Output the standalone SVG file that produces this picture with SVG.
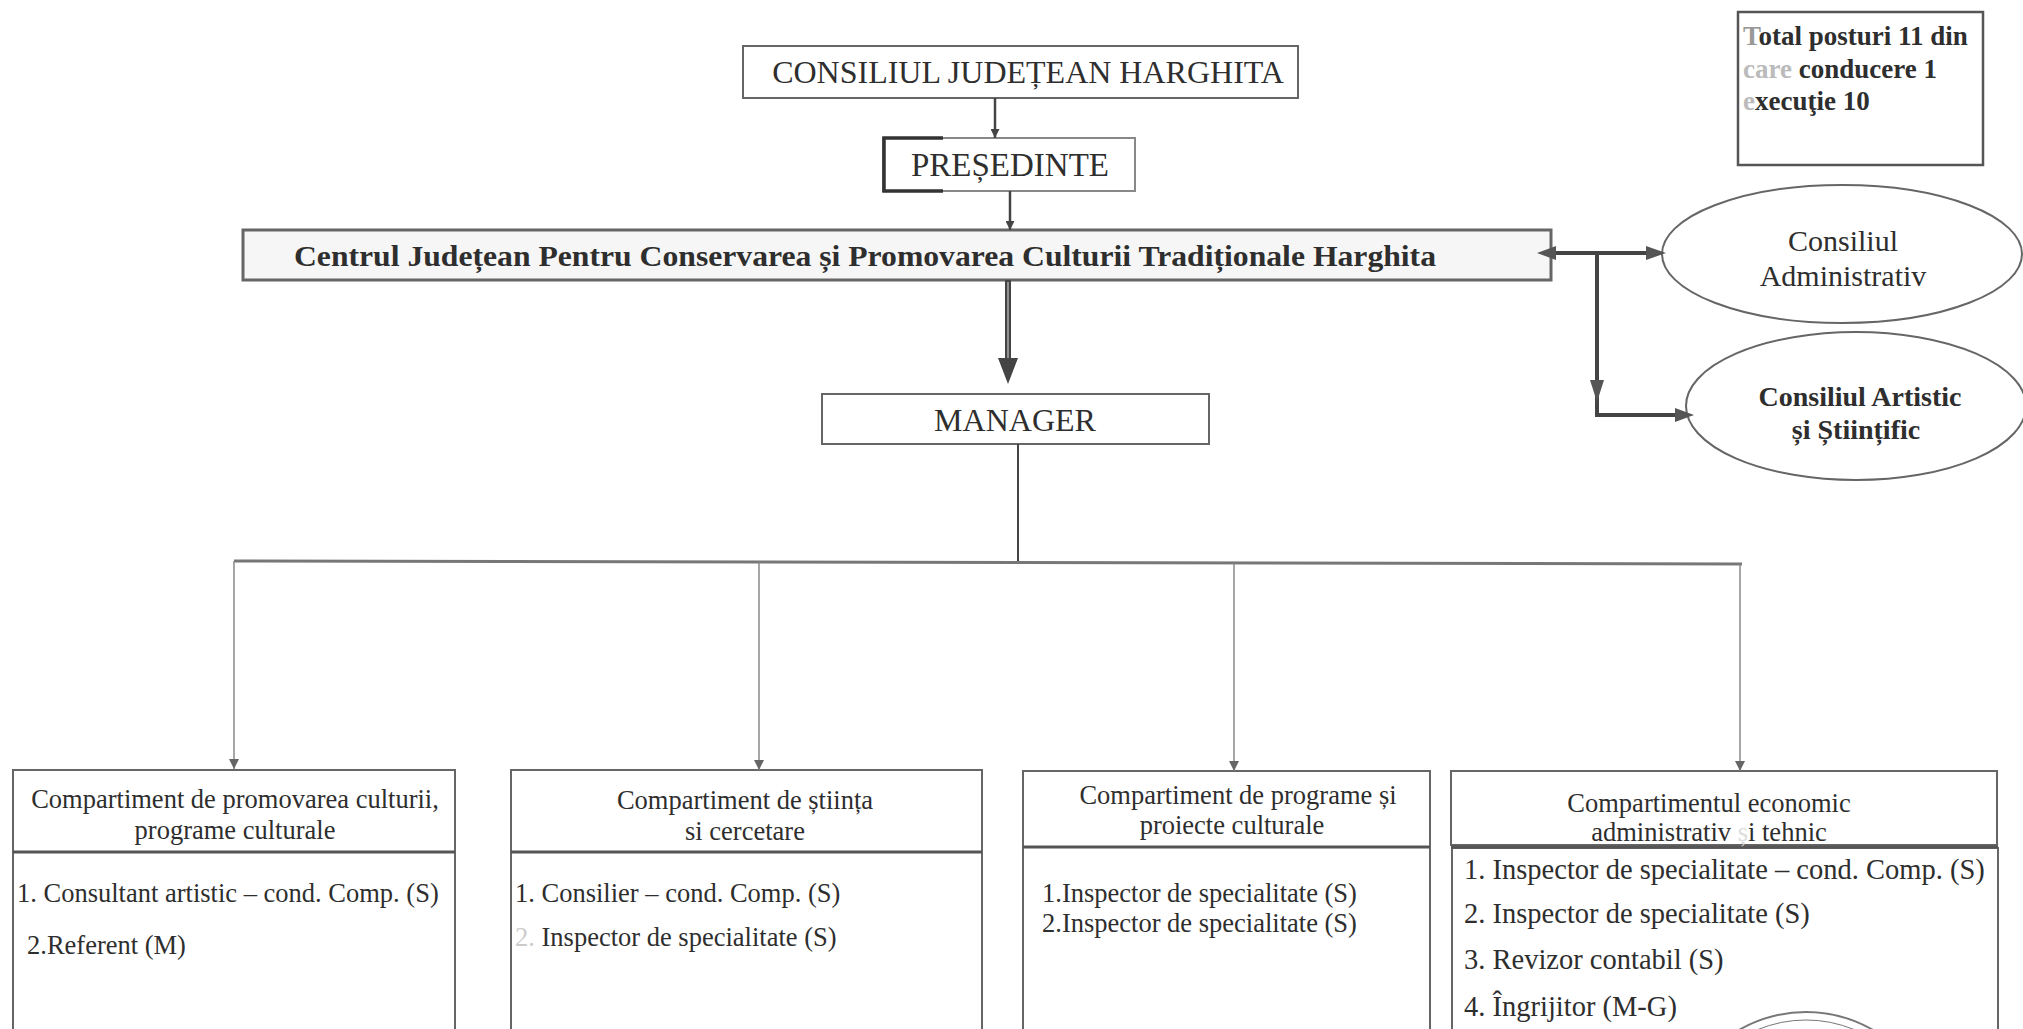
<svg xmlns="http://www.w3.org/2000/svg" width="2023" height="1029" viewBox="0 0 2023 1029">
<style>
.t{font-family:"Liberation Serif","Times New Roman",serif;fill:#2e2e2e}
.b{font-weight:bold}
.box{fill:#fff;stroke:#666;stroke-width:2}
.hdr{fill:none;stroke:#555;stroke-width:3}
.drop{stroke:#888;stroke-width:1.5;fill:none}
.thick{stroke:#444;stroke-width:4;fill:none}
.ah{fill:#555}
</style>
<defs>
<marker id="down" viewBox="0 0 10 10" refX="10" refY="5" markerUnits="userSpaceOnUse" markerWidth="17" markerHeight="10" orient="auto">
<path d="M0,0 L10,5 L0,10 z" fill="#666"/>
</marker>
<marker id="small" viewBox="0 0 10 10" refX="10" refY="5" markerUnits="userSpaceOnUse" markerWidth="12" markerHeight="9" orient="auto">
<path d="M0,0 L10,5 L0,10 z" fill="#444"/>
</marker>
</defs>
<rect width="2023" height="1029" fill="#fff"/>

<g id="total">
<rect x="1738" y="12" width="245" height="153" fill="#fff" stroke="#555" stroke-width="2.5"/>
<text class="t b" font-size="27" x="1743" y="45"><tspan fill="#999">T</tspan>otal posturi 11 din</text>
<text class="t b" font-size="27" x="1743" y="78"><tspan fill="#bbb">care</tspan> conducere 1</text>
<text class="t b" font-size="27" x="1743" y="110"><tspan fill="#bbb">e</tspan>xecuţie 10</text>
</g>

<g id="consiliul">
<rect x="743" y="46" width="555" height="52" class="box"/>
<text class="t" font-size="32" x="1028" y="83" text-anchor="middle">CONSILIUL JUDEȚEAN HARGHITA</text>
</g>

<g id="presedinte">
<rect x="883" y="138" width="252" height="53" fill="#fff" stroke="#888" stroke-width="2"/>
<path d="M943,138 L884,138 L884,191 L943,191" fill="none" stroke="#333" stroke-width="3.5"/>
<text class="t" font-size="33" x="1010" y="176" text-anchor="middle">PREȘEDINTE</text>
</g>

<g id="centrul">
<rect x="243" y="230" width="1308" height="50" fill="#f6f6f6" stroke="#666" stroke-width="3"/>
<text class="t b" font-size="29" x="294" y="266" textLength="1142" lengthAdjust="spacingAndGlyphs">Centrul Județean Pentru Conservarea și Promovarea Culturii Tradiționale Harghita</text>
</g>

<g id="consiliul-administrativ">
<ellipse cx="1842" cy="254" rx="180" ry="69" fill="#fff" stroke="#666" stroke-width="2"/>
<text class="t" font-size="30" x="1843" y="251" text-anchor="middle">Consiliul</text>
<text class="t" font-size="30" x="1843" y="286" text-anchor="middle">Administrativ</text>
</g>

<g id="consiliul-artistic">
<ellipse cx="1856" cy="406" rx="170" ry="74" fill="#fff" stroke="#666" stroke-width="2"/>
<text class="t b" font-size="28" x="1860" y="406" text-anchor="middle">Consiliul Artistic</text>
<text class="t b" font-size="28" x="1856" y="439" text-anchor="middle">și Științific</text>
</g>

<g id="manager">
<rect x="822" y="394" width="387" height="50" class="box"/>
<text class="t" font-size="32" x="1015" y="431" text-anchor="middle">MANAGER</text>
</g>

<g id="comp1">
<rect x="13" y="770" width="442" height="280" class="box"/>
<line x1="13" y1="852" x2="455" y2="852" class="hdr"/>
<text class="t" font-size="26.5" x="235" y="808" text-anchor="middle">Compartiment de promovarea culturii,</text>
<text class="t" font-size="26.5" x="235" y="839" text-anchor="middle">programe culturale</text>
<text class="t" font-size="26.5" x="17" y="902">1. Consultant artistic – cond. Comp. (S)</text>
<text class="t" font-size="26.5" x="27" y="954">2.Referent (M)</text>
</g>

<g id="comp2">
<rect x="511" y="770" width="471" height="280" class="box"/>
<line x1="511" y1="852" x2="982" y2="852" class="hdr"/>
<text class="t" font-size="26.5" x="745" y="809" text-anchor="middle">Compartiment de știința</text>
<text class="t" font-size="26.5" x="745" y="840" text-anchor="middle">si cercetare</text>
<text class="t" font-size="26.5" x="515" y="902">1. Consilier – cond. Comp. (S)</text>
<text class="t" font-size="26.5" x="515" y="946"><tspan fill="#ccc">2.</tspan> Inspector de specialitate (S)</text>
</g>

<g id="comp3">
<rect x="1023" y="771" width="407" height="280" class="box"/>
<line x1="1023" y1="847" x2="1430" y2="847" class="hdr"/>
<text class="t" font-size="26.5" x="1238" y="804" text-anchor="middle">Compartiment de programe și</text>
<text class="t" font-size="26.5" x="1232" y="834" text-anchor="middle">proiecte culturale</text>
<text class="t" font-size="26.5" x="1042" y="902">1.Inspector de specialitate (S)</text>
<text class="t" font-size="26.5" x="1042" y="932">2.Inspector de specialitate (S)</text>
</g>

<g id="comp4">
<rect x="1451" y="771" width="546" height="74" class="box"/>
<rect x="1452" y="848" width="546" height="200" class="box"/>
<line x1="1451" y1="847" x2="1998" y2="847" class="hdr"/>
<text class="t" font-size="26.5" x="1709" y="812" text-anchor="middle">Compartimentul economic</text>
<text class="t" font-size="26.5" x="1709" y="841" text-anchor="middle">administrativ <tspan fill="#ddd">ș</tspan>i tehnic</text>
<text class="t" font-size="28.5" x="1464" y="879">1. Inspector de specialitate – cond. Comp. (S)</text>
<text class="t" font-size="28.5" x="1464" y="923">2. Inspector de specialitate (S)</text>
<text class="t" font-size="28.5" x="1464" y="969">3. Revizor contabil (S)</text>
<text class="t" font-size="28.5" x="1464" y="1016">4. Îngrijitor (M-G)</text>
</g>

<g id="stamp" fill="none" stroke="#777" stroke-width="2">
<circle cx="1806" cy="1146" r="134"/>
<circle cx="1806" cy="1146" r="126" stroke-width="1"/>
</g>

<g id="connectors">
<line x1="995" y1="98" x2="995" y2="138" stroke="#444" stroke-width="2.5" marker-end="url(#small)"/>
<line x1="1010" y1="191" x2="1010" y2="230" stroke="#444" stroke-width="2.5" marker-end="url(#small)"/>
<line x1="1008" y1="280" x2="1008" y2="362" stroke="#444" stroke-width="6"/>
<line x1="1008" y1="282" x2="1008" y2="360" stroke="#aaa" stroke-width="1.5"/>
<path d="M998,358 L1018,358 L1008,384 z" fill="#444"/>
<line x1="1018" y1="444" x2="1018" y2="562" stroke="#444" stroke-width="2"/>
<line x1="234" y1="561" x2="1742" y2="564" stroke="#777" stroke-width="3"/>
<line x1="234" y1="561" x2="234" y2="769" class="drop" marker-end="url(#down)"/>
<line x1="759" y1="562" x2="759" y2="770" class="drop" marker-end="url(#down)"/>
<line x1="1234" y1="563" x2="1234" y2="771" class="drop" marker-end="url(#down)"/>
<line x1="1740" y1="564" x2="1740" y2="771" class="drop" marker-end="url(#down)"/>
<line x1="1553" y1="253" x2="1648" y2="253" class="thick"/>
<path d="M1537,253 L1556,246 L1556,260 z" class="ah"/>
<path d="M1666,253 L1646,246 L1646,260 z" class="ah"/>
<line x1="1597" y1="253" x2="1597" y2="417" class="thick"/>
<path d="M1597,402 L1590,380 L1604,380 z" class="ah"/>
<line x1="1595" y1="415" x2="1676" y2="415" class="thick"/>
<path d="M1694,415 L1675,408 L1675,422 z" class="ah"/>
</g>
</svg>
